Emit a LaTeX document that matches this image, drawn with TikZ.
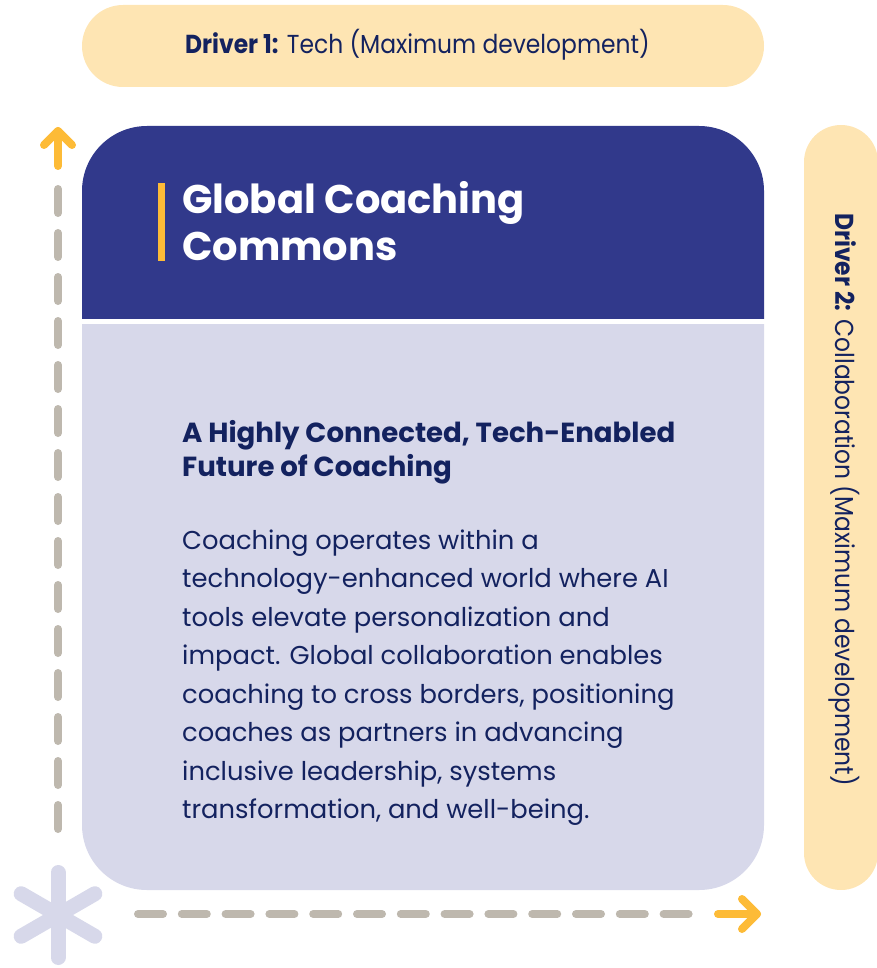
\documentclass[tikz,border=0pt]{standalone}
\usepackage{fontspec}
\usetikzlibrary{calc}
\setmainfont{Poppins}
\newfontfamily\pillfont[FakeStretch=0.9]{Poppins}
\definecolor{pillc}{HTML}{FEE5B3}
\definecolor{cardblue}{HTML}{31398B}
\definecolor{lav}{HTML}{D7D8EA}
\definecolor{navy}{HTML}{13225F}
\definecolor{yel}{HTML}{FDBB37}
\definecolor{dashc}{HTML}{BEB8AE}
\begin{document}
\begin{tikzpicture}[x=1pt,y=-1pt,
  pill/.style={fill=pillc},
  dashline/.style={draw=dashc,line width=8pt,line cap=round,dash pattern=on 24pt off 20pt},
  hdashline/.style={draw=dashc,line width=8pt,line cap=round,dash pattern=on 25pt off 18.8pt},
  yarrow/.style={draw=yel,line width=8pt,line cap=round,line join=round},
  star/.style={draw=lav,line width=15pt,line cap=round},
  txt/.style={inner sep=0pt,anchor=base west},
  pilltxt/.style={txt,text=navy,font=\pillfont\fontsize{26}{30}\selectfont},
  titletxt/.style={txt,text=white,font=\bfseries\fontsize{40}{42}\selectfont},
  subtxt/.style={txt,text=navy,font=\bfseries\fontsize{27.6}{32}\selectfont},
  bodytxt/.style={txt,text=navy,font=\fontsize{25.8}{30}\selectfont},
]
\useasboundingbox (0,0) rectangle (877,968);
\clip (0,0) rectangle (877,968);

% top pill
\fill[pill,rounded corners=41pt] (82,5) rectangle (764,87);
\node[pilltxt] (d1) at (185,54) {\textbf{Driver 1:} Tech (Maximum development)};

% right pill
\fill[pill,rounded corners=37pt] (804,125) rectangle (878,890);
\node[pilltxt,rotate=-90] (d2) at (835,213) {\textbf{Driver 2:} Collaboration (Maximum development)};

% card
\begin{scope}
  \clip (0,0) rectangle (877,318);
  \fill[cardblue,rounded corners=65pt] (82,126) rectangle (764,890);
\end{scope}
\begin{scope}
  \clip (0,324) rectangle (877,968);
  \fill[lav,rounded corners=65pt] (82,126) rectangle (764,890);
\end{scope}

% title
\fill[yel] (158,183) rectangle (165,261);
\node[titletxt] (t1) at (182,214) {Global Coaching};
\node[titletxt] (t2) at (182,260) {Commons};

% subtitle
\node[subtxt] (s1) at (182,442) {A Highly Connected, Tech-Enabled};
\node[subtxt] (s2) at (182,476) {Future of Coaching};

% body
\foreach \t [count=\i] in {
  {Coaching operates within a},
  {technology-enhanced world where AI},
  {tools elevate personalization and},
  {impact. Global collaboration enables},
  {coaching to cross borders, positioning},
  {coaches as partners in advancing},
  {inclusive leadership, systems},
  {transformation, and well-being.}}
  \node[bodytxt] (b\i) at (182,{549+38.5*(\i-1)}) {\t};

% vertical axis
\coordinate (vs) at (58,189);
\coordinate (ve) at (58,829);
\draw[dashline] (vs) -- (ve);
\coordinate (vt) at (58,131);
\coordinate (vb) at (58,166);
\coordinate (vl) at (44,145);
\coordinate (vr) at (72,145);
\draw[yarrow] (vb) -- (vt);
\draw[yarrow] (vl) -- (vt) -- (vr);

% horizontal axis
\coordinate (hs) at (138,914);
\coordinate (he) at (690,914);
\draw[hdashline] (hs) -- (he);
\coordinate (ht) at (757,914);
\coordinate (hb) at (718,914);
\coordinate (hu) at (742,899);
\coordinate (hd) at (742,929);
\draw[yarrow] (hb) -- (ht);
\draw[yarrow] (hu) -- (ht) -- (hd);

% asterisk
\coordinate (ac) at (58,915);
\foreach \a in {90,30,-30} {
  \draw[star] ($(ac)+(\a:42.5)$) -- ($(ac)+(\a+180:42.5)$);
}
\end{tikzpicture}
\end{document}
